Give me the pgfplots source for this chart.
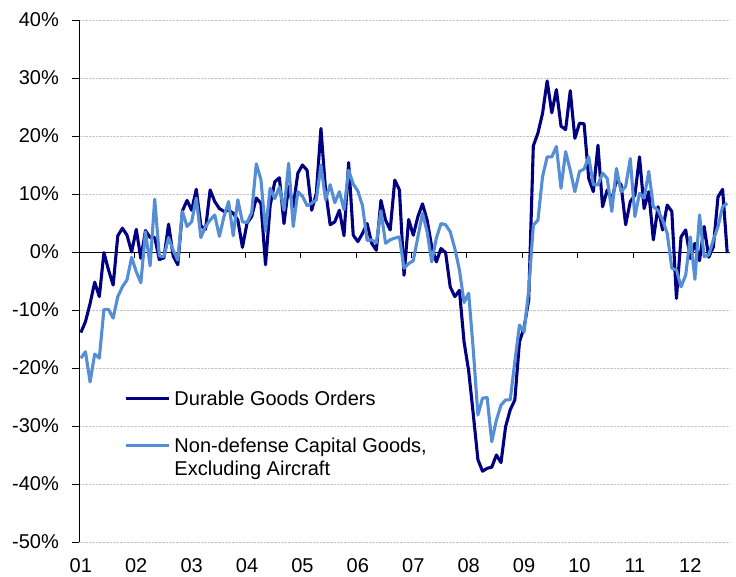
\documentclass[border=0pt]{standalone}
\usepackage{pgfplots}
\pgfplotsset{compat=1.18}
\usepackage{pgfplotstable}
\usepackage{fontspec}
\setmainfont{Liberation Sans}
\definecolor{darkseries}{RGB}{0,0,128}
\definecolor{lightseries}{RGB}{85,142,213}
\newcommand{\bigfont}{\fontsize{20}{23.3}\selectfont}
\pgfplotstableread{
m d n
0 -13.9 -18.3
1 -12.0 -17.2
2 -8.9 -22.4
3 -5.2 -17.6
4 -7.7 -18.3
5 -0.1 -9.9
6 -3.1 -9.9
7 -5.7 -11.4
8 2.8 -7.7
9 4.1 -6.0
10 2.9 -4.8
11 0.0 -0.9
12 3.9 -3.4
13 -1.1 -5.3
14 3.7 3.5
15 2.5 -2.4
16 2.5 9.1
17 -1.3 -0.7
18 -1.0 -0.8
19 4.8 2.5
20 -0.7 0.3
21 -2.2 -1.4
22 7.1 7.0
23 8.9 4.4
24 7.2 5.2
25 10.8 9.3
26 4.5 2.5
27 3.9 4.4
28 10.7 5.5
29 8.7 6.4
30 7.5 2.7
31 7.0 6.1
32 7.2 8.7
33 6.7 2.8
34 5.5 9.0
35 0.8 5.2
36 5.0 5.1
37 6.1 6.8
38 9.3 15.2
39 8.4 12.5
40 -2.2 3.6
41 8.0 11.0
42 12.1 9.2
43 12.8 11.2
44 4.9 7.2
45 11.3 15.3
46 7.8 4.4
47 13.6 10.4
48 15.0 9.6
49 14.1 8.0
50 7.2 8.4
51 10.1 9.0
52 21.3 15.0
53 10.7 9.0
54 4.7 11.6
55 5.2 8.5
56 7.2 10.4
57 2.8 7.3
58 15.4 14.1
59 2.9 11.7
60 1.8 10.5
61 3.2 8.0
62 4.9 2.0
63 1.5 2.1
64 0.3 1.6
65 8.9 7.1
66 5.5 1.5
67 3.8 2.1
68 12.4 2.4
69 10.7 2.6
70 -4.0 -2.8
71 5.6 -2.0
72 2.9 -1.5
73 6.1 2.6
74 8.3 6.7
75 5.5 3.5
76 0.9 -1.7
77 -1.7 2.4
78 0.6 4.9
79 -0.1 4.7
80 -6.0 3.5
81 -7.7 0.6
82 -6.6 -3.1
83 -15.5 -8.7
84 -20.5 -7.1
85 -28.0 -16.9
86 -35.8 -28.1
87 -37.8 -25.2
88 -37.3 -25.1
89 -37.1 -32.7
90 -35.0 -29.0
91 -36.3 -26.4
92 -30.1 -25.5
93 -27.2 -25.5
94 -25.5 -18.9
95 -15.5 -12.6
96 -13.0 -13.8
97 -8.3 -6.6
98 18.3 4.6
99 20.5 5.5
100 23.9 13.0
101 29.5 16.4
102 24.0 16.4
103 28.0 18.2
104 21.7 11.0
105 21.1 17.3
106 27.8 14.1
107 19.6 10.4
108 22.2 13.9
109 22.1 14.3
110 12.7 16.4
111 10.4 11.6
112 18.4 11.6
113 7.8 13.6
114 10.7 12.7
115 9.0 7.0
116 12.4 14.4
117 11.6 10.4
118 4.7 11.3
119 8.7 16.1
120 9.8 6.1
121 16.4 10.1
122 7.5 9.3
123 10.4 13.9
124 2.1 7.8
125 7.8 7.2
126 3.8 5.5
127 8.1 3.2
128 7.0 -2.8
129 -8.0 -3.1
130 2.6 -6.0
131 3.8 -4.0
132 -1.1 2.6
133 1.5 -4.7
134 -1.5 6.4
135 4.4 -0.8
136 -0.9 -0.5
137 0.9 2.1
138 9.5 4.4
139 10.8 7.8
140 -0.2 8.4
}\datatable
\begin{document}
\begin{tikzpicture}
\useasboundingbox (-79pt,-34pt) rectangle (657pt,542pt);
\begin{axis}[
  at={(0pt,0pt)}, anchor=south west,
  width=651pt, height=522pt, scale only axis,
  xmin=-0.4, xmax=140.6, ymin=-50, ymax=40,
  axis y line*=left, axis x line*=bottom,
  x axis line style={draw=none},
  y axis line style={black, line width=0.8pt},
  xtick={0,12,...,132},
  xticklabels={01,02,03,04,05,06,07,08,09,10,11,12},
  ytick={-50,-40,...,40},
  yticklabels={-50\%,-40\%,-30\%,-20\%,-10\%,0\%,10\%,20\%,30\%,40\%},
  tick align=outside,
  major tick length=7pt,
  xtick style={draw=none},
  ytick style={black, line width=0.8pt},
  ymajorgrids,
  grid style={gray!45, densely dotted, line width=0.6pt},
  tick label style={font=\bigfont},
  xticklabel style={inner sep=0pt, anchor=north, yshift=-9.5pt},
  yticklabel style={inner sep=0pt, anchor=east, xshift=-13pt},
  legend cell align=left,
  legend style={draw=none, fill=none, inner sep=0pt, outer sep=0pt,
    at={(0.0691,0.2891)}, anchor=north west, font=\bigfont,
    nodes={inner sep=0pt}, cells={anchor=base west}, row sep=30.7pt,
    /tikz/every odd column/.append style={column sep=4.4pt}},
  legend image code/.code={\draw[#1] (0pt,6.7pt) -- (43pt,6.7pt);},
]
\draw[black, line width=0.8pt] (axis cs:-0.4,0) -- (axis cs:140.6,0);
\pgfplotsinvokeforeach{11.6,23.6,35.6,47.6,59.6,71.6,83.6,95.6,107.6,119.6,131.6}{
  \draw[black, line width=0.8pt] (axis cs:#1,0) -- ++(0pt,-6pt);
}
\addplot[darkseries, line width=3.1pt, line join=round] table[x=m,y=d]{\datatable};
\addlegendentry{Durable Goods Orders}
\addplot[lightseries, line width=3.1pt, line join=round] table[x=m,y=n]{\datatable};
\addlegendentry{\vtop{\hbox{Non-defense Capital Goods,}\hbox{Excluding Aircraft}}}
\end{axis}
\end{tikzpicture}
\end{document}
